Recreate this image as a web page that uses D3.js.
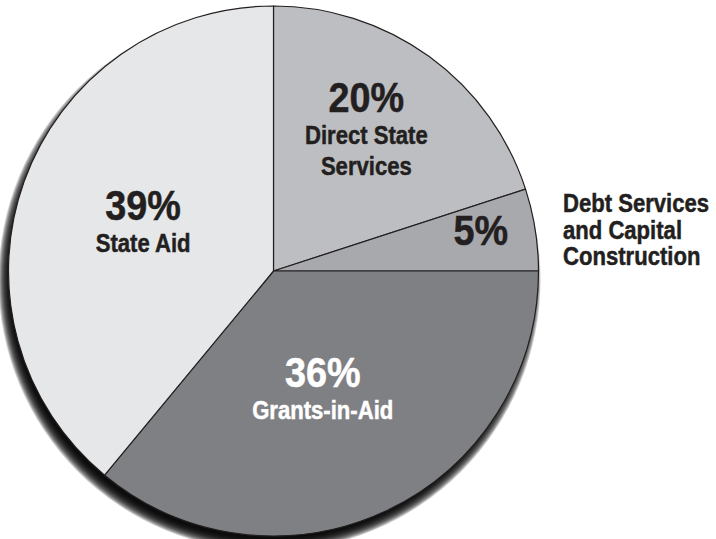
<!DOCTYPE html>
<html>
<head>
<meta charset="utf-8">
<script src="https://cdn.jsdelivr.net/npm/d3@7"></script>
<style>
  body { margin: 0; background: #fff; }
</style>
</head>
<body>
<script>
// slice data, clockwise from 12 o'clock
const categories = ["Direct State Services", "Debt Services and Capital Construction", "Grants-in-Aid", "State Aid"];
const shares = [20, 5, 36, 39];
const labelLines = [["Direct State", "Services"], ["Debt Services", "and Capital", "Construction"], ["Grants-in-Aid"], ["State Aid"]];
const sliceColors = ["#bdbec1", "#a8a9ac", "#7f8084", "#e6e7e9"];
const textColors = ["#231f20", "#231f20", "#ffffff", "#231f20"];

function main(){
    const canvasWidth = 716;
    const canvasHeight = 539;
    const cx = 273.5, cy = 271, radius = 265;
    // no condensed face installed, so squeeze Liberation Sans horizontally
    const font = "'Liberation Sans', Arial, sans-serif";
    const pctSize = 42, pctScale = 0.9;
    const lblSize = 26, lblScale = 0.85;

    const svg = d3.select("body").append("svg")
        .attr("width", canvasWidth)
        .attr("height", canvasHeight);

    const g = svg.append("g")
        .attr("transform", `translate(${cx},${cy})`);

    const pie = d3.pie().sort(null).value(d => d.value);
    const arc = d3.arc().innerRadius(0).outerRadius(radius);

    const data = categories.map((c, i) => ({name: c, value: shares[i], lines: labelLines[i], color: sliceColors[i], text: textColors[i]}));
    const arcs = pie(data);

    // soft drop shadow: stacked translucent discs shifted down-left
    const shadowSteps = d3.range(13);
    g.append("g")
        .attr("transform", "translate(-4,9)")
        .selectAll("path")
        .data(shadowSteps)
        .enter()
        .append("path")
        .attr("d", s => d3.arc().innerRadius(0).outerRadius(radius + 6 - s)({startAngle: 0, endAngle: 2 * Math.PI}))
        .attr("fill", "#000")
        .attr("fill-opacity", 0.2);

    g.selectAll("path.slice")
        .data(arcs)
        .enter()
        .append("path")
        .attr("class", "slice")
        .attr("d", arc)
        .attr("fill", d => d.data.color)
        .attr("stroke", "#231f20")
        .attr("stroke-width", 1.2)
        .attr("stroke-linejoin", "round");

    // label anchor (percent baseline) as angle in degrees / distance from centre
    const anchors = [[30.3, 184], [82.8, 209], [157, 126], [291.4, 140]];
    const polar = (a, r) => [r * Math.sin(a * Math.PI / 180), -r * Math.cos(a * Math.PI / 180)];

    function squeezed(parent, x, y, size, sx, txt, anchor) {
        return parent.append("text")
            .attr("transform", `translate(${x},${y}) scale(${sx},1)`)
            .attr("font-size", size + "px")
            .attr("text-anchor", anchor)
            .text(txt);
    }

    arcs.forEach((d, i) => {
        const [x, y] = polar(anchors[i][0], anchors[i][1]);
        const lg = g.append("g")
            .attr("font-family", font)
            .attr("font-weight", "bold")
            .attr("fill", d.data.text)
            .attr("stroke", d.data.text)
            .attr("stroke-width", 0.5);
        squeezed(lg, x, y, pctSize, pctScale, d.data.value + "%", "middle");
        if (i === 1) return;
        d.data.lines.forEach((t, j) => {
            squeezed(lg, x, y + 32 + j * 31, lblSize, lblScale, t, "middle");
        });
    });

    // outside label for the small slice
    const outside = svg.append("g")
        .attr("font-family", font)
        .attr("font-weight", "bold")
        .attr("fill", "#231f20")
        .attr("stroke", "#231f20")
        .attr("stroke-width", 0.5);
    labelLines[1].forEach((t, j) => {
        squeezed(outside, 563, 212 + j * 26.5, lblSize, lblScale, t, "start");
    });
}
main();
</script>
</body>
</html>
